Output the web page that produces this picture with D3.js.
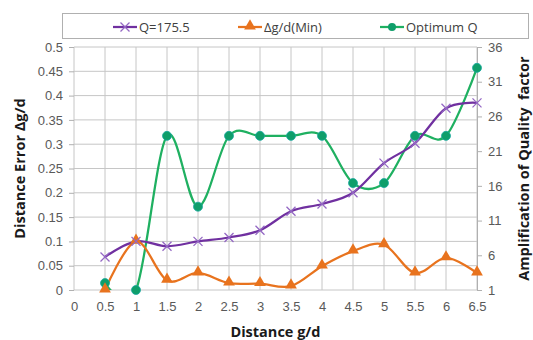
<!DOCTYPE html>
<html>
<head>
<meta charset="utf-8">
<script src="https://cdn.jsdelivr.net/npm/d3@7"></script>
<style>
  body { margin: 0; background: #fff; }
  svg { font-family: "Open Sans", "Noto Sans", sans-serif; }
</style>
</head>
<body>
<svg id="chart" width="533" height="340"></svg>
<script>
// data
var distance = [0.5, 1, 1.5, 2, 2.5, 3, 3.5, 4, 4.5, 5, 5.5, 6, 6.5];
var q175 = [0.068, 0.10, 0.09, 0.10, 0.108, 0.123, 0.162, 0.177, 0.20, 0.261, 0.302, 0.374, 0.385];
var dgdMin = [0, 0.10, 0.02, 0.035, 0.014, 0.013, 0.008, 0.049, 0.08, 0.093, 0.035, 0.066, 0.035];
var optimumQ = [2, 1, 23.2, 13, 23.2, 23.2, 23.2, 23.2, 16.4, 16.4, 23.2, 23.2, 33];
var xTicks = [0, 0.5, 1, 1.5, 2, 2.5, 3, 3.5, 4, 4.5, 5, 5.5, 6, 6.5];
var leftTicks = [0, 0.05, 0.1, 0.15, 0.2, 0.25, 0.3, 0.35, 0.4, 0.45, 0.5];
var rightTicks = [1, 6, 11, 16, 21, 26, 31, 36];

var svg = d3.select("#chart");
var margin = {top: 47, left: 74, bottom: 50, right: 56};
var width = 533 - margin.left - margin.right;
var height = 340 - margin.top - margin.bottom;

var x = d3.scaleLinear().domain([0, 6.5]).range([0, width]);
var yL = d3.scaleLinear().domain([0, 0.5]).range([height, 0]);
var yR = d3.scaleLinear().domain([1, 36]).range([height, 0]);

var g = svg.append("g").attr("transform", "translate(" + margin.left + "," + margin.top + ")");

svg.append("clipPath").attr("id", "plotclip")
  .append("rect").attr("x", -2).attr("y", -10).attr("width", width + 4).attr("height", height + 10);

// grid
g.selectAll(".hgrid").data(leftTicks).enter().append("line")
  .attr("x1", 0).attr("x2", width)
  .attr("y1", function(d) { return yL(d); }).attr("y2", function(d) { return yL(d); })
  .attr("stroke", "#c6c6c6").attr("stroke-width", 1);
g.selectAll(".vgrid").data(xTicks).enter().append("line")
  .attr("x1", function(d) { return x(d); }).attr("x2", function(d) { return x(d); })
  .attr("y1", 0).attr("y2", height)
  .attr("stroke", "#c6c6c6").attr("stroke-width", 1);

// axes
var leftAxis = g.append("g")
  .call(d3.axisLeft(yL).tickValues(leftTicks).tickSize(5).tickPadding(6)
    .tickFormat(function(d) { return d3.format("")(+d.toFixed(2)); }));
var rightAxis = g.append("g").attr("transform", "translate(" + width + ",0)")
  .call(d3.axisRight(yR).tickValues(rightTicks).tickSize(5).tickPadding(6));
var bottomAxis = g.append("g").attr("transform", "translate(0," + height + ")")
  .call(d3.axisBottom(x).tickValues(xTicks).tickSize(0).tickPadding(12)
    .tickFormat(function(d) { return d3.format("")(d); }));

[leftAxis, rightAxis, bottomAxis].forEach(function(a) {
  a.select(".domain").attr("stroke", "#b0b0b0");
  a.selectAll(".tick line").attr("stroke", "#b0b0b0");
  a.selectAll("text").attr("fill", "#595959").style("font-size", "13px");
});
bottomAxis.select(".domain").remove();
leftAxis.select(".domain").remove();

// lines
var curve = d3.curveCatmullRom.alpha(0);
var plot = g.append("g").attr("clip-path", "url(#plotclip)");

var lineL = function(vals) {
  return d3.line().curve(curve)
    .x(function(d, i) { return x(distance[i]); })
    .y(function(d) { return yL(d); })(vals);
};
var lineR = d3.line().curve(curve)
  .x(function(d, i) { return x(distance[i]); })
  .y(function(d) { return yR(d); });

var purple = "#7030a0", orange = "#e8731e", green = "#1fb061", greenDot = "#0f9e6a";

plot.append("path").attr("d", lineR(optimumQ))
  .attr("fill", "none").attr("stroke", green).attr("stroke-width", 2.25);
plot.append("path").attr("d", lineL(dgdMin))
  .attr("fill", "none").attr("stroke", orange).attr("stroke-width", 2.25);
plot.append("path").attr("d", lineL(q175))
  .attr("fill", "none").attr("stroke", purple).attr("stroke-width", 2.25);

// markers
var tri = d3.symbol().type(d3.symbolTriangle).size(60);
var xMark = "M-4.5,-4.5L4.5,4.5M-4.5,4.5L4.5,-4.5";

g.selectAll(".mg").data(optimumQ).enter().append("circle")
  .attr("cx", function(d, i) { return x(distance[i]); })
  .attr("cy", function(d) { return yR(d); })
  .attr("r", 4.5).attr("fill", greenDot).attr("stroke", "#18a8a0").attr("stroke-width", 0.8);
g.selectAll(".mo").data(dgdMin).enter().append("path")
  .attr("d", tri)
  .attr("transform", function(d, i) { return "translate(" + x(distance[i]) + "," + (yL(d) - 1) + ")"; })
  .attr("fill", orange);
g.selectAll(".mp").data(q175).enter().append("path")
  .attr("d", xMark)
  .attr("transform", function(d, i) { return "translate(" + x(distance[i]) + "," + yL(d) + ")"; })
  .attr("fill", "none").attr("stroke", "#9468c4").attr("stroke-width", 1.3);

// axis titles
svg.append("text")
  .attr("transform", "translate(25," + (margin.top + height / 2) + ")rotate(-90)")
  .attr("text-anchor", "middle").attr("font-weight", "bold").attr("font-size", "14.5px")
  .attr("fill", "#1a1a1a").text("Distance Error Δg/d");
svg.append("text")
  .attr("transform", "translate(529," + (margin.top + height / 2) + ")rotate(-90)")
  .attr("text-anchor", "middle").attr("font-weight", "bold").attr("font-size", "14.5px")
  .attr("fill", "#1a1a1a").style("white-space", "pre").text("Amplification of Quality  factor");
svg.append("text")
  .attr("x", margin.left + width / 2).attr("y", 337)
  .attr("text-anchor", "middle").attr("font-weight", "bold").attr("font-size", "14.5px")
  .attr("fill", "#1a1a1a").text("Distance g/d");

// legend
var lg = svg.append("g");
lg.append("rect").attr("x", 62.5).attr("y", 13.5).attr("width", 466).attr("height", 25)
  .attr("fill", "#fff").attr("stroke", "#b0b0b0");
var legendItems = [
  {name: "Q=175.5", color: purple, x: 113, mark: "x"},
  {name: "Δg/d(Min)", color: orange, x: 238, mark: "tri"},
  {name: "Optimum Q", color: green, x: 380, mark: "dot"}
];
legendItems.forEach(function(it) {
  lg.append("line").attr("x1", it.x).attr("x2", it.x + 24).attr("y1", 27).attr("y2", 27)
    .attr("stroke", it.color).attr("stroke-width", 2.25);
  var cx = it.x + 12;
  if (it.mark === "dot") {
    lg.append("circle").attr("cx", cx).attr("cy", 27).attr("r", 4).attr("fill", greenDot);
  } else if (it.mark === "tri") {
    lg.append("path").attr("d", tri).attr("transform", "translate(" + cx + ",26)").attr("fill", orange);
  } else {
    lg.append("path").attr("d", xMark).attr("transform", "translate(" + cx + ",27)")
      .attr("fill", "none").attr("stroke", "#9468c4").attr("stroke-width", 1.3);
  }
  lg.append("text").attr("x", it.x + 26).attr("y", 31.5).attr("font-size", "13px")
    .attr("fill", "#404040").text(it.name);
});
</script>
</body>
</html>
